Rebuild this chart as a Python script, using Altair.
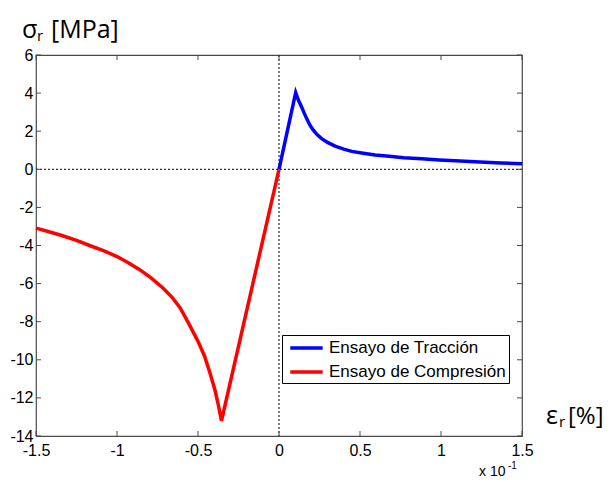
import altair as alt
import pandas as pd

# ---------------- data ----------------
trac_x = [0.0, 0.103, 0.12, 0.138, 0.155, 0.171, 0.19, 0.212, 0.235, 0.263, 0.3, 0.346, 0.4, 0.449, 0.52,
          0.593, 0.68, 0.77, 0.88, 0.99, 1.12, 1.24, 1.37, 1.5]
trac_y = [0.0, 4.03, 3.62, 3.3, 2.96, 2.66, 2.33, 2.05, 1.82, 1.61, 1.41, 1.22, 1.06, 0.94, 0.84,
          0.75, 0.68, 0.61, 0.55, 0.49, 0.43, 0.38, 0.33, 0.29]

comp_x = [-1.5, -1.42, -1.335, -1.25, -1.169, -1.08, -1.0, -0.93, -0.86, -0.79, -0.715, -0.66, -0.61,
          -0.56, -0.5, -0.46, -0.426, -0.395, -0.375, -0.355, 0.0]
comp_y = [-3.09, -3.28, -3.49, -3.73, -4.0, -4.28, -4.58, -4.9, -5.27, -5.7, -6.24, -6.72, -7.28,
          -8.05, -9.03, -9.8, -10.69, -11.6, -12.35, -13.2, 0.0]

series_names = ["Ensayo de Tracción", "Ensayo de Compresión"]
series_colors = ["#0000ff", "#ff0000"]

x_ticks = [-1.5, -1.0, -0.5, 0.0, 0.5, 1.0, 1.5]
y_ticks = [-14, -12, -10, -8, -6, -4, -2, 0, 2, 4, 6]

W, H = 486, 381
FRAME = "#4a4a4a"

df_t = pd.DataFrame({"x": trac_x, "y": trac_y, "series": series_names[0]})
df_c = pd.DataFrame({"x": comp_x, "y": comp_y, "series": series_names[1]})
df_xt = pd.DataFrame({"v": x_ticks})
df_yt = pd.DataFrame({"v": y_ticks})
df_zero = pd.DataFrame({"v": [0.0]})

xs = alt.Scale(domain=[-1.5, 1.5], nice=False, zero=False)
ys = alt.Scale(domain=[-14, 6], nice=False, zero=False)

lbl = "datum.value < 0 ? '-' + format(-datum.value, '~g') : format(datum.value, '~g')"

x_axis = alt.Axis(values=x_ticks, labelExpr=lbl, labelFont="Liberation Sans", labelFontSize=16,
                  labelColor="black", ticks=False, domain=False, grid=False, title=None,
                  labelPadding=6, labelFlush=False, labelOverlap=False)
y_axis = alt.Axis(values=y_ticks, labelExpr=lbl, labelFont="Liberation Sans", labelFontSize=16,
                  labelColor="black", ticks=False, domain=False, grid=False, title=None,
                  labelPadding=3, labelFlush=False, labelOverlap=False)


def X(f):
    return alt.X(f, scale=xs, axis=x_axis, title=None)


def Y(f):
    return alt.Y(f, scale=ys, axis=y_axis, title=None)


color = alt.Color("series:N", scale=alt.Scale(domain=series_names, range=series_colors),
                  legend=alt.Legend(orient="none", legendX=246, legendY=280, title=None,
                                    strokeColor="black", fillColor="white", padding=3,
                                    labelFont="Liberation Sans", labelFontSize=17, labelColor="black",
                                    labelLimit=400,
                                    symbolType="M-0.59,0H3.46", symbolStrokeWidth=3.5, symbolSize=256,
                                    labelOffset=24, rowPadding=6, cornerRadius=0))

zero_v = alt.Chart(df_zero).mark_rule(color="black", strokeDash=[2, 2], strokeWidth=1).encode(x=X("v:Q"))
zero_h = alt.Chart(df_zero).mark_rule(color="black", strokeDash=[2, 2], strokeWidth=1).encode(y=Y("v:Q"))

tick_b = alt.Chart(df_xt).mark_rule(color=FRAME).encode(x=X("v:Q"), y=alt.value(H), y2=alt.value(H - 5))
tick_t = alt.Chart(df_xt).mark_rule(color=FRAME).encode(x=X("v:Q"), y=alt.value(0), y2=alt.value(5))
tick_l = alt.Chart(df_yt).mark_rule(color=FRAME).encode(y=Y("v:Q"), x=alt.value(0), x2=alt.value(5))
tick_r = alt.Chart(df_yt).mark_rule(color=FRAME).encode(y=Y("v:Q"), x=alt.value(W - 5), x2=alt.value(W))

line_c = alt.Chart(df_c).mark_line(strokeWidth=3.5).encode(x=X("x:Q"), y=Y("y:Q"), color=color)
line_t = alt.Chart(df_t).mark_line(strokeWidth=3.5).encode(x=X("x:Q"), y=Y("y:Q"), color=color)


def txt(s, x, y, size, font="Open Sans"):
    return alt.Chart(pd.DataFrame({"t": [s]})).mark_text(
        align="left", baseline="alphabetic", font=font, fontSize=size, color="black"
    ).encode(text="t:N", x=alt.value(x), y=alt.value(y))


texts = [
    txt("σ", -14, -17, 25),
    txt("r", 1, -14, 15),
    txt("[MPa]", 15, -17, 25),
    txt("ε", 510, 369, 25),
    txt("r", 523, 372, 15),
    txt("[%]", 532, 369, 24),
    txt("x 10", 443, 421, 14, "Liberation Sans"),
    txt("-1", 472, 414, 10, "Liberation Sans"),
]

chart = alt.layer(zero_v, zero_h, tick_b, tick_t, tick_l, tick_r, line_c, line_t, *texts).properties(
    width=W, height=H,
    autosize=alt.AutoSizeParams(type="none"),
    padding={"left": 28, "top": 47, "right": 82, "bottom": 44},
    background="white",
).configure_view(stroke=FRAME, strokeWidth=1.2)

chart.save("out.html", embed_options={"renderer": "svg", "actions": False})
